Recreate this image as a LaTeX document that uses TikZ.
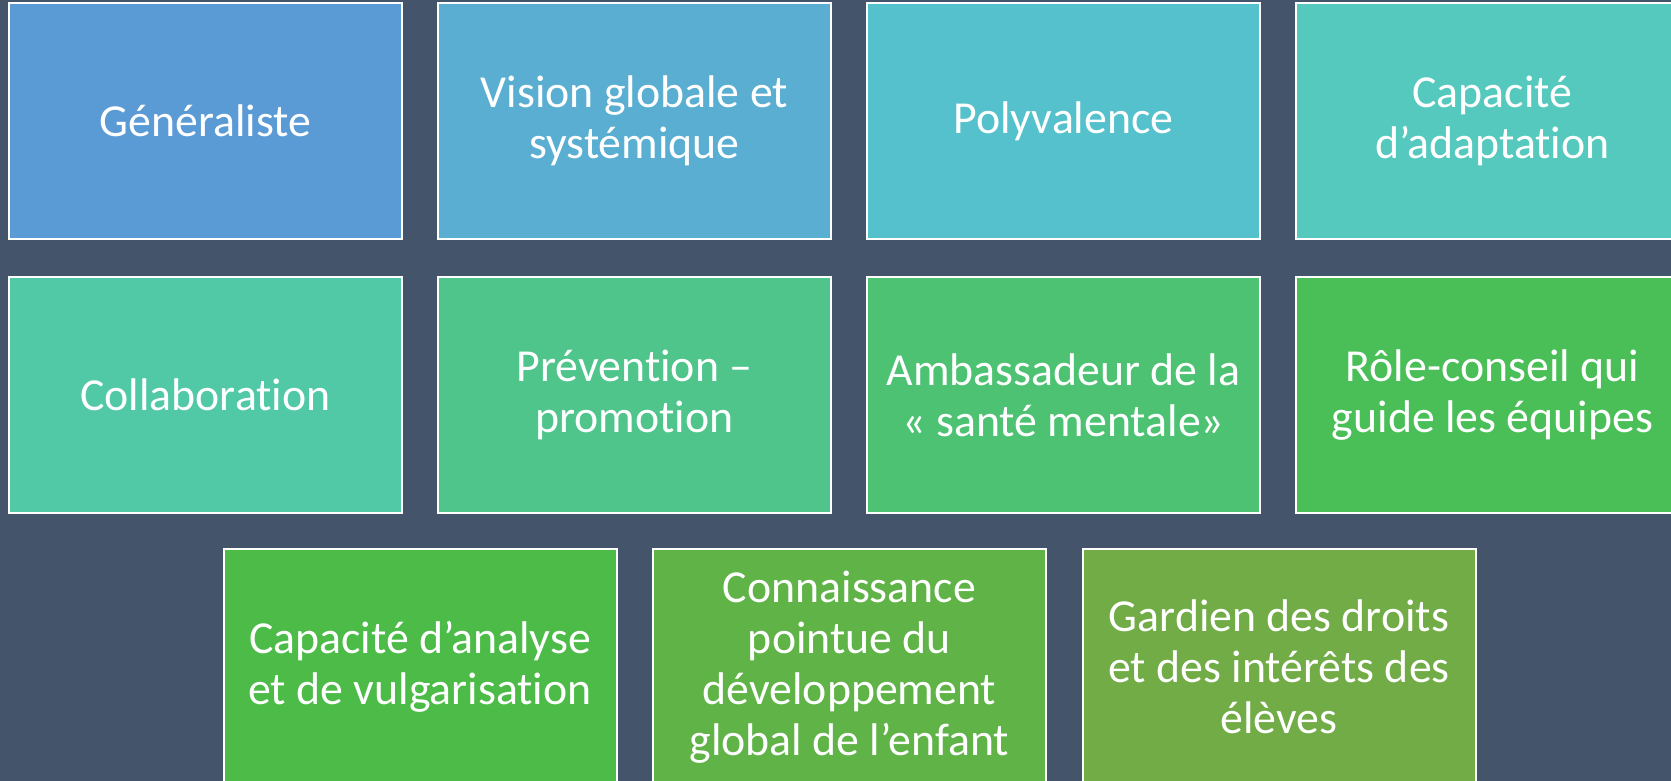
\documentclass[tikz,border=0pt]{standalone}
\usepackage{fontspec}
\setmainfont{Carlito}[Ligatures=NoCommon]
\usepackage{tikz}

\definecolor{slate}{HTML}{44546A}

\begin{document}
\begin{tikzpicture}[x=0.5pt, y=-0.5pt,
	tile/.style={draw=white, line width=1pt, minimum width=196.5pt, minimum height=118pt,
		inner sep=0pt, align=center, text=white, font=\fontsize{22.9}{25.5}\selectfont}]

% Background and frame
\fill[slate] (0,0) rectangle (1671,781);
\clip (0,0) rectangle (1671,781);

% Top two rows: four tiles each
\foreach \i/\col/\txt in {
	1/5B9BD5/{Généraliste},
	2/59AED2/{Vision globale et\\systémique},
	3/55C1CC/{Polyvalence},
	4/55C9BE/{Capacité\\d’adaptation}} {
	\definecolor{tc}{HTML}{\col}
	\node[tile, fill=tc] (b\i) at ({205.5+429*(\i-1)}, 121) {\txt};
}
\foreach \i/\col/\txt in {
	5/51C8A6/{Collaboration},
	6/4FC58B/{Prévention –\\promotion},
	7/4CC272/{Ambassadeur de la\\«~santé mentale»},
	8/4ABE57/{Rôle-conseil qui\\guide les équipes}} {
	\definecolor{tc}{HTML}{\col}
	\node[tile, fill=tc] (b\i) at ({205.5+429*(\i-5)}, 395) {\txt};
}

% Bottom row: three tiles, shifted half a step
\foreach \i/\col/\txt in {
	9/4CBB47/{Capacité d’analyse\\et de vulgarisation},
	10/5FB347/{Connaissance\\pointue du\\développement\\global de l’enfant},
	11/71AC47/{Gardien des droits\\et des intérêts des\\élèves}} {
	\definecolor{tc}{HTML}{\col}
	\node[tile, fill=tc] (b\i) at ({420+429.5*(\i-9)}, 667) {\txt};
}

\end{tikzpicture}
\end{document}
